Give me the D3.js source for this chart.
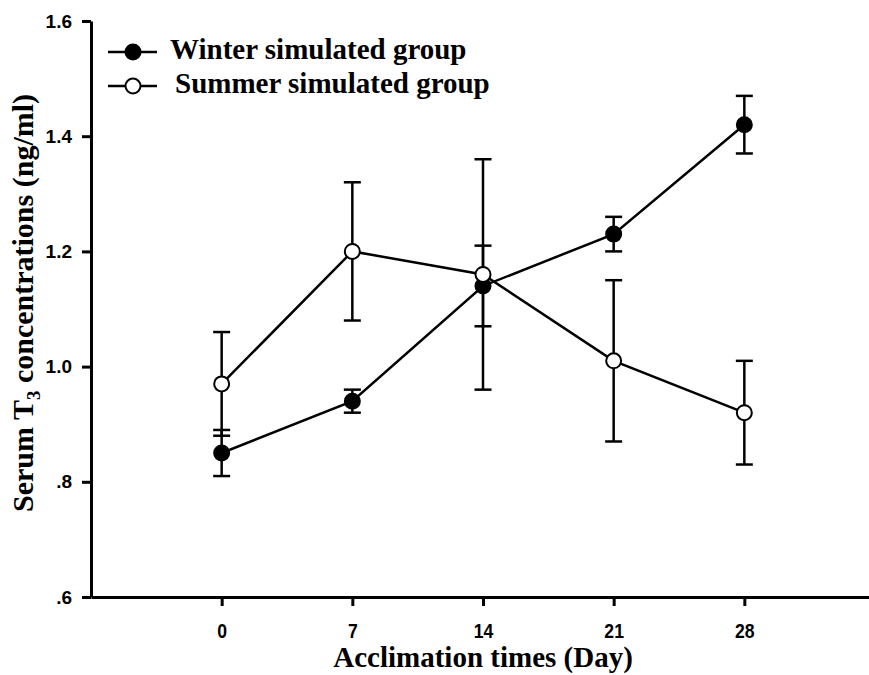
<!DOCTYPE html>
<html>
<head>
<meta charset="utf-8">
<script src="https://cdn.jsdelivr.net/npm/d3@7"></script>
<style>
  body { margin: 0; background: white; }
  svg { display: block; }
</style>
</head>
<body>
<div id="main_div"></div>
<script>
var CHART_WIDTH = 869;
var CHART_HEIGHT = 675;

// Acclimation days
var days = [0, 7, 14, 21, 28];
var x_tick_labels = ["0", "7", "14", "21", "28"];
var y_ticks = [0.6, 0.8, 1.0, 1.2, 1.4, 1.6];
var y_tick_labels = [".6", ".8", "1.0", "1.2", "1.4", "1.6"];

// Serum T3 (ng/ml), mean and error
var winter_values = [0.85, 0.94, 1.14, 1.23, 1.42];
var winter_errors = [0.04, 0.02, 0.07, 0.03, 0.05];
var summer_values = [0.97, 1.20, 1.16, 1.01, 0.92];
var summer_errors = [0.09, 0.12, 0.20, 0.14, 0.09];

var series_names = ["Winter simulated group", "Summer simulated group"];

var svg = d3.select("#main_div").append("svg")
            .attr("width", CHART_WIDTH)
            .attr("height", CHART_HEIGHT);

var x = d3.scaleLinear().domain([-7, 35]).range([91, 875]);
var y = d3.scaleLinear().domain([0.6, 1.6]).range([597, 21]);

// Y axis
var y_axis = svg.append("g")
                .attr("transform", "translate(" + x(-7) + ",0)")
                .call(d3.axisLeft(y)
                        .tickValues(y_ticks)
                        .tickFormat(function(d, i) { return y_tick_labels[i]; })
                        .tickSize(9)
                        .tickPadding(10)
                        .tickSizeOuter(0));

// X axis
var x_axis = svg.append("g")
                .attr("transform", "translate(0," + y(0.6) + ")")
                .call(d3.axisBottom(x)
                        .tickValues(days)
                        .tickFormat(function(d, i) { return x_tick_labels[i]; })
                        .tickSize(9)
                        .tickPadding(17)
                        .tickSizeOuter(0));

svg.selectAll(".domain, .tick line")
   .attr("stroke", "black")
   .attr("stroke-width", 3);

y_axis.selectAll("text")
      .attr("font-family", "Liberation Sans, Arial, sans-serif")
      .attr("font-weight", "bold")
      .attr("font-size", 19)
      .attr("fill", "black");

// narrow bold digits
x_axis.selectAll("text")
      .attr("font-family", "Liberation Sans, Arial, sans-serif")
      .attr("font-weight", "bold")
      .attr("font-size", 21)
      .attr("transform", "scale(0.84,1)")
      .attr("fill", "black");

// Axis titles
svg.append("text")
   .attr("x", (x(0) + x(28)) / 2)
   .attr("y", 667)
   .attr("text-anchor", "middle")
   .attr("font-family", "Liberation Serif, Times New Roman, serif")
   .attr("font-weight", "bold")
   .attr("font-size", 29)
   .text("Acclimation times (Day)");

var y_title = svg.append("text")
   .attr("transform", "translate(33,303) rotate(-90)")
   .attr("text-anchor", "middle")
   .attr("font-family", "Liberation Serif, Times New Roman, serif")
   .attr("font-weight", "bold")
   .attr("font-size", 30);
y_title.append("tspan").text("Serum T");
y_title.append("tspan").attr("dy", 7).attr("font-size", 19).text("3");
y_title.append("tspan").attr("dy", -7).text(" concentrations (ng/ml)");

function drawSeries(values, errors, fill) {
  var g = svg.append("g");
  var pts = days.map(function(d, i) {
    return { day: d, value: values[i], err: errors[i] };
  });

  g.append("path")
   .datum(pts)
   .attr("fill", "none")
   .attr("stroke", "black")
   .attr("stroke-width", 2.5)
   .attr("d", d3.line()
                .x(function(d) { return x(d.day); })
                .y(function(d) { return y(d.value); }));

  // Error bars
  var bars = g.selectAll(".err").data(pts).enter().append("g");
  bars.append("line")
      .attr("x1", function(d) { return x(d.day); })
      .attr("x2", function(d) { return x(d.day); })
      .attr("y1", function(d) { return y(d.value - d.err); })
      .attr("y2", function(d) { return y(d.value + d.err); })
      .attr("stroke", "black").attr("stroke-width", 2.5);
  [-1, 1].forEach(function(s) {
    bars.append("line")
        .attr("x1", function(d) { return x(d.day) - 8.5; })
        .attr("x2", function(d) { return x(d.day) + 8.5; })
        .attr("y1", function(d) { return y(d.value + s * d.err); })
        .attr("y2", function(d) { return y(d.value + s * d.err); })
        .attr("stroke", "black").attr("stroke-width", 2.5);
  });

  g.selectAll("circle").data(pts).enter().append("circle")
   .attr("cx", function(d) { return x(d.day); })
   .attr("cy", function(d) { return y(d.value); })
   .attr("r", 7.5)
   .attr("fill", fill)
   .attr("stroke", "black")
   .attr("stroke-width", 2);
}

drawSeries(winter_values, winter_errors, "black");
drawSeries(summer_values, summer_errors, "white");

// Legend
var legend_fills = ["black", "white"];
var legend = svg.selectAll(".legend").data(series_names).enter().append("g")
                .attr("transform", function(d, i) { return "translate(0," + (52 + i * 34) + ")"; });
legend.append("line")
      .attr("x1", 108).attr("x2", 157)
      .attr("stroke", "black").attr("stroke-width", 2.5);
legend.append("circle")
      .attr("cx", 133).attr("r", 7.5)
      .attr("fill", function(d, i) { return legend_fills[i]; })
      .attr("stroke", "black").attr("stroke-width", 2);
legend.append("text")
      .attr("x", function(d, i) { return i === 0 ? 170 : 175; })
      .attr("y", 7)
      .attr("font-family", "Liberation Serif, Times New Roman, serif")
      .attr("font-weight", "bold")
      .attr("font-size", 29)
      .text(function(d) { return d; });
</script>
</body>
</html>
